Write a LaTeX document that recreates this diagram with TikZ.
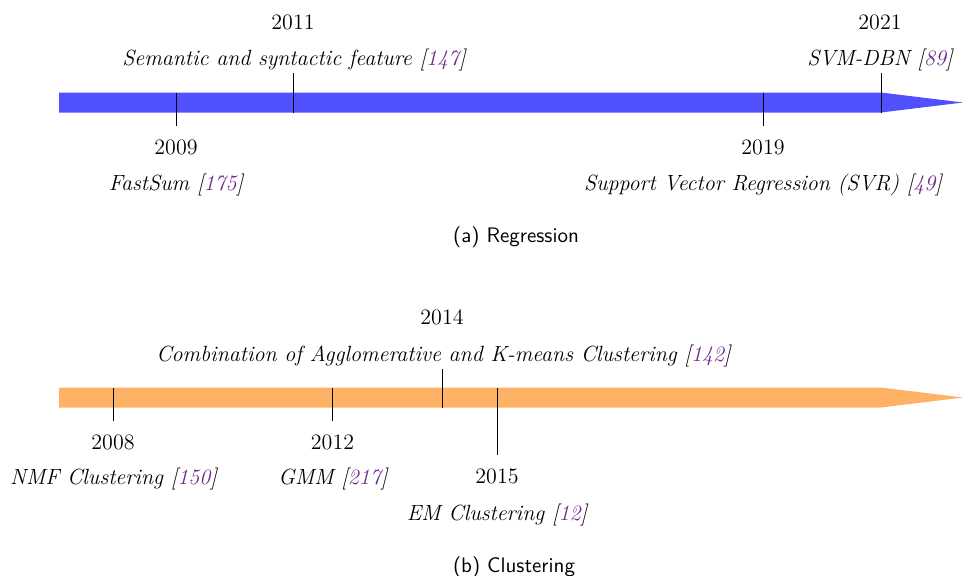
\documentclass[tikz,border=0pt]{standalone}
\usepackage{xcolor}
\definecolor{citepurple}{RGB}{112,40,140}
\definecolor{regblue}{RGB}{80,80,255}
\definecolor{cluorange}{RGB}{255,178,102}
\newcommand{\cit}[1]{[\textcolor{citepurple}{#1}]}
\begin{document}
\begin{tikzpicture}[x=0.5pt,y=-0.5pt,
  yearlbl/.style={anchor=base,inner sep=0pt,font=\fontsize{11}{13}\selectfont},
  worklbl/.style={anchor=base,inner sep=0pt,font=\fontsize{11}{13}\selectfont\itshape},
  caplbl/.style={anchor=base,inner sep=0pt,font=\fontsize{10.5}{13}\selectfont\sffamily},
  tick/.style={draw=black,line width=0.5pt}]
\useasboundingbox (0,0) rectangle (963,575);
% ---------- (a) Regression ----------
\fill[regblue] (59,92.5) -- (881,92.5) -- (963,102.5) -- (881,112.5) -- (59,112.5) -- cycle;
\coordinate (t09a) at (176,92.5);   \coordinate (t09b) at (176,125.5);
\coordinate (t11a) at (293,72.5);   \coordinate (t11b) at (293,112.5);
\coordinate (t19a) at (763,92.5);   \coordinate (t19b) at (763,125.5);
\coordinate (t21a) at (881,72.5);   \coordinate (t21b) at (881,112.5);
\draw[tick] (t09a) -- (t09b);
\draw[tick] (t11a) -- (t11b);
\draw[tick] (t19a) -- (t19b);
\draw[tick] (t21a) -- (t21b);
\node[yearlbl] (y11) at (293,29) {2011};
\node[worklbl] (w11) at (294,65) {Semantic and syntactic feature \cit{147}};
\node[yearlbl] (y21) at (880,29) {2021};
\node[worklbl] (w21) at (880,65) {SVM-DBN \cit{89}};
\node[yearlbl] (y09) at (176,154) {2009};
\node[worklbl] (w09) at (176,190) {FastSum \cit{175}};
\node[yearlbl] (y19) at (763,154) {2019};
\node[worklbl] (w19) at (763,190) {Support Vector Regression (SVR) \cit{49}};
\node[caplbl] (capa) at (516,242) {(a) Regression};
% ---------- (b) Clustering ----------
\fill[cluorange] (59,387.5) -- (881,387.5) -- (963,397.5) -- (881,407.5) -- (59,407.5) -- cycle;
\coordinate (t08a) at (113,387.5);  \coordinate (t08b) at (113,420.5);
\coordinate (t12a) at (332.5,387.5);\coordinate (t12b) at (332.5,420.5);
\coordinate (t14a) at (442,368.5);  \coordinate (t14b) at (442,407.5);
\coordinate (t15a) at (497,387.5);  \coordinate (t15b) at (497,455);
\draw[tick] (t08a) -- (t08b);
\draw[tick] (t12a) -- (t12b);
\draw[tick] (t14a) -- (t14b);
\draw[tick] (t15a) -- (t15b);
\node[yearlbl] (y14) at (442,324) {2014};
\node[worklbl] (w14) at (443.5,361) {Combination of Agglomerative and K-means Clustering \cit{142}};
\node[yearlbl] (y08) at (113,449) {2008};
\node[worklbl] (w08) at (113.5,484) {NMF Clustering \cit{150}};
\node[yearlbl] (y12) at (332.5,449) {2012};
\node[worklbl] (w12) at (333,484) {GMM \cit{217}};
\node[yearlbl] (y15) at (497,483) {2015};
\node[worklbl] (w15) at (497,520) {EM Clustering \cit{12}};
\node[caplbl] (capb) at (514,572) {(b) Clustering};
\end{tikzpicture}
\end{document}
